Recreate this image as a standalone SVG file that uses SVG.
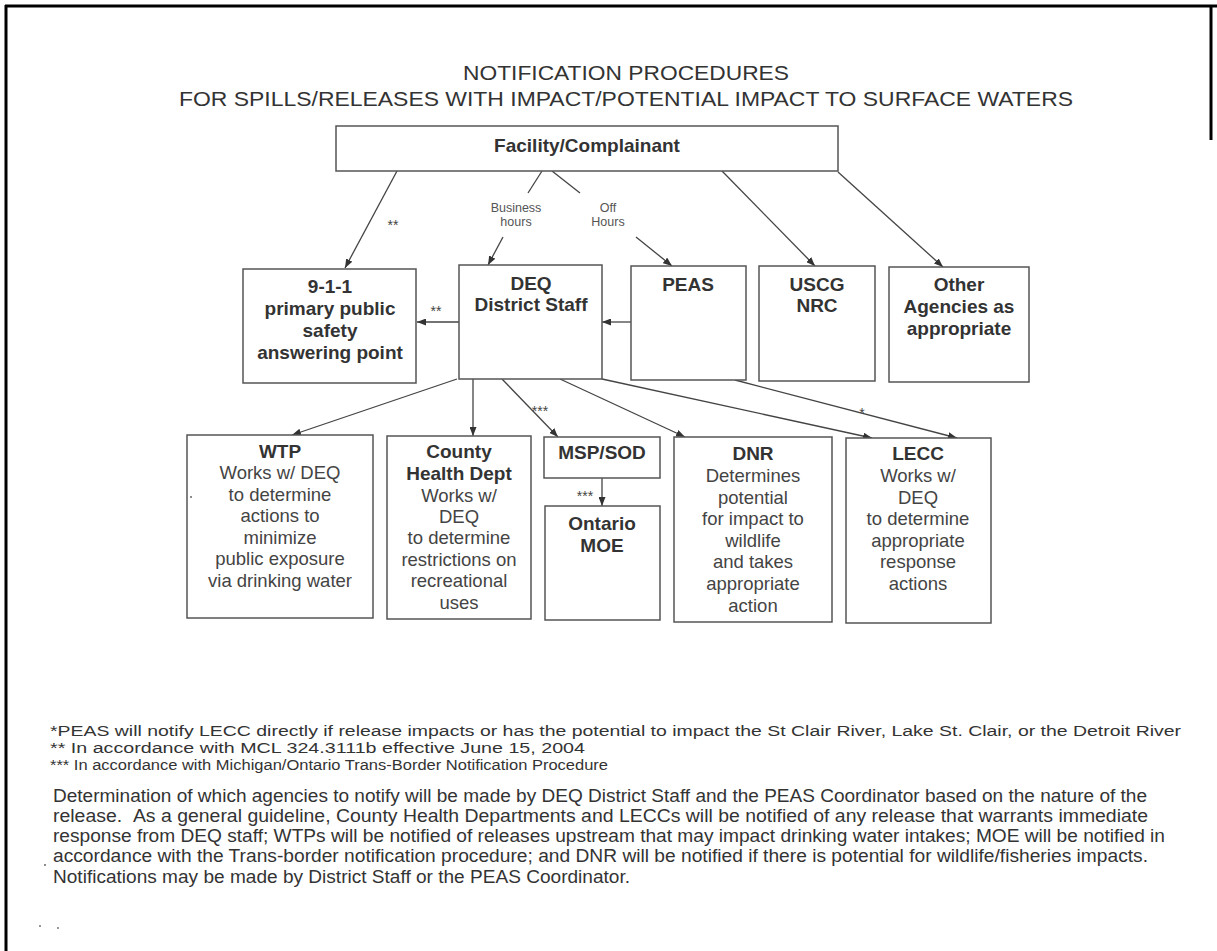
<svg xmlns="http://www.w3.org/2000/svg" width="1217" height="951" viewBox="0 0 1217 951">
<defs>
<style>
.box{fill:#fff;stroke:#555;stroke-width:1.5}
.b{font-family:"Liberation Sans",Arial,sans-serif;font-weight:bold;font-size:19px;fill:#333;text-anchor:middle}
.r{font-family:"Liberation Sans",Arial,sans-serif;font-size:18.5px;fill:#444;text-anchor:middle}
.s{font-family:"Liberation Sans",Arial,sans-serif;font-size:12.5px;fill:#555;text-anchor:middle}
.ast{font-family:"Liberation Sans",Arial,sans-serif;font-size:14px;fill:#444;text-anchor:middle}
.t{font-family:"Liberation Sans",Arial,sans-serif;font-size:21px;fill:#333}
.f{font-family:"Liberation Sans Narrow","Liberation Sans",Arial,sans-serif;font-size:17.5px;fill:#333}
.fn{font-family:"Liberation Sans Narrow","Liberation Sans",Arial,sans-serif;font-size:15.5px;fill:#333}
.c line{stroke:#444;stroke-width:1.3;fill:none}
.c line.a{marker-end:url(#ah)}
</style>
<marker id="ah" markerUnits="userSpaceOnUse" markerWidth="9" markerHeight="7" refX="9" refY="3.5" orient="auto">
<path d="M0,0 L9,3.5 L0,7 z" fill="#333"/>
</marker>
</defs>
<rect x="0" y="0" width="1217" height="951" fill="#fff"/>
<g id="border" stroke="#000" stroke-width="3">
<line x1="5" y1="6" x2="1217" y2="6"/>
<line x1="6" y1="5" x2="6" y2="951"/>
<line x1="1211" y1="5" x2="1211" y2="140"/>
</g>
<g id="title">
<text class="t" x="463" y="80" textLength="326" lengthAdjust="spacingAndGlyphs">NOTIFICATION PROCEDURES</text>
<text class="t" x="179" y="106" textLength="894" lengthAdjust="spacingAndGlyphs">FOR SPILLS/RELEASES WITH IMPACT/POTENTIAL IMPACT TO SURFACE WATERS</text>
</g>
<g class="c" id="connectors">
<line class="a" x1="397" y1="171" x2="345" y2="268"/>
<line x1="542" y1="171" x2="528" y2="193"/>
<line class="a" x1="503" y1="237" x2="488" y2="265"/>
<line x1="552" y1="171" x2="580" y2="193"/>
<line class="a" x1="636" y1="237" x2="672" y2="266"/>
<line class="a" x1="722" y1="171" x2="815" y2="266"/>
<line class="a" x1="838" y1="172" x2="943" y2="267"/>
<line class="a" x1="459" y1="322" x2="417" y2="322"/>
<line class="a" x1="631" y1="322" x2="602" y2="322"/>
<line class="a" x1="457" y1="379" x2="292" y2="435"/>
<line class="a" x1="473" y1="379" x2="473" y2="436"/>
<line class="a" x1="502" y1="379" x2="558" y2="437"/>
<line class="a" x1="560" y1="379" x2="685" y2="437"/>
<line class="a" x1="602" y1="379" x2="872" y2="438"/>
<line class="a" x1="735" y1="380" x2="957" y2="438"/>
<line class="a" x1="602" y1="478" x2="602" y2="506"/>
<text class="s" x="516" y="212">Business</text>
<text class="s" x="516" y="226">hours</text>
<text class="s" x="608" y="212">Off</text>
<text class="s" x="608" y="226">Hours</text>
<text class="ast" x="393" y="230">**</text>
<text class="ast" x="436" y="316">**</text>
<text class="ast" x="540" y="416">***</text>
<text class="ast" x="862" y="418">*</text>
<text class="ast" x="585" y="501">***</text>
</g>
<g id="facility">
<rect class="box" x="336" y="126" width="502" height="45"/>
<text class="b" x="587" y="152">Facility/Complainant</text>
</g>
<g id="n911">
<rect class="box" x="243" y="269" width="173" height="114"/>
<text class="b" x="330" y="293">9-1-1</text>
<text class="b" x="330" y="315">primary public</text>
<text class="b" x="330" y="337">safety</text>
<text class="b" x="330" y="359">answering point</text>
</g>
<g id="deq">
<rect class="box" x="459" y="265" width="143" height="114"/>
<text class="b" x="531" y="290">DEQ</text>
<text class="b" x="531" y="311">District Staff</text>
</g>
<g id="peas">
<rect class="box" x="631" y="266" width="115" height="114"/>
<text class="b" x="688" y="291">PEAS</text>
</g>
<g id="uscg">
<rect class="box" x="759" y="266" width="116" height="115"/>
<text class="b" x="817" y="291">USCG</text>
<text class="b" x="817" y="312">NRC</text>
</g>
<g id="other">
<rect class="box" x="889" y="267" width="140" height="115"/>
<text class="b" x="959" y="291">Other</text>
<text class="b" x="959" y="313">Agencies as</text>
<text class="b" x="959" y="335">appropriate</text>
</g>
<g id="wtp">
<rect class="box" x="187" y="435" width="186" height="183"/>
<text class="b" x="280" y="458">WTP</text>
<text class="r" x="280" y="479">Works w/ DEQ</text>
<text class="r" x="280" y="501">to determine</text>
<text class="r" x="280" y="522">actions to</text>
<text class="r" x="280" y="544">minimize</text>
<text class="r" x="280" y="565">public exposure</text>
<text class="r" x="280" y="587">via drinking water</text>
</g>
<g id="county">
<rect class="box" x="387" y="436" width="144" height="183"/>
<text class="b" x="459" y="458">County</text>
<text class="b" x="459" y="480">Health Dept</text>
<text class="r" x="459" y="502">Works w/</text>
<text class="r" x="459" y="523">DEQ</text>
<text class="r" x="459" y="544">to determine</text>
<text class="r" x="459" y="566">restrictions on</text>
<text class="r" x="459" y="587">recreational</text>
<text class="r" x="459" y="609">uses</text>
</g>
<g id="msp">
<rect class="box" x="544" y="437" width="116" height="41"/>
<text class="b" x="602" y="459">MSP/SOD</text>
</g>
<g id="ontario">
<rect class="box" x="545" y="506" width="115" height="114"/>
<text class="b" x="602" y="530">Ontario</text>
<text class="b" x="602" y="552">MOE</text>
</g>
<g id="dnr">
<rect class="box" x="674" y="437" width="158" height="185"/>
<text class="b" x="753" y="460">DNR</text>
<text class="r" x="753" y="482">Determines</text>
<text class="r" x="753" y="504">potential</text>
<text class="r" x="753" y="525">for impact to</text>
<text class="r" x="753" y="547">wildlife</text>
<text class="r" x="753" y="568">and takes</text>
<text class="r" x="753" y="590">appropriate</text>
<text class="r" x="753" y="612">action</text>
</g>
<g id="lecc">
<rect class="box" x="846" y="438" width="145" height="185"/>
<text class="b" x="918" y="460">LECC</text>
<text class="r" x="918" y="482">Works w/</text>
<text class="r" x="918" y="504">DEQ</text>
<text class="r" x="918" y="525">to determine</text>
<text class="r" x="918" y="547">appropriate</text>
<text class="r" x="918" y="568">response</text>
<text class="r" x="918" y="590">actions</text>
</g>
<g id="notes">
<text class="fn" x="50" y="736" textLength="1131" lengthAdjust="spacingAndGlyphs">*PEAS will notify LECC directly if release impacts or has the potential to impact the St Clair River, Lake St. Clair, or the Detroit River</text>
<text class="fn" x="50" y="753" textLength="535" lengthAdjust="spacingAndGlyphs">** In accordance with MCL 324.3111b effective June 15, 2004</text>
<text class="fn" x="50" y="770" textLength="558" lengthAdjust="spacingAndGlyphs">*** In accordance with Michigan/Ontario Trans-Border Notification Procedure</text>
<text class="f" x="53" y="802" textLength="1094" lengthAdjust="spacingAndGlyphs">Determination of which agencies to notify will be made by DEQ District Staff and the PEAS Coordinator based on the nature of the</text>
<text class="f" x="53" y="822" textLength="1095" lengthAdjust="spacingAndGlyphs">release. &#160;As a general guideline, County Health Departments and LECCs will be notified of any release that warrants immediate</text>
<text class="f" x="53" y="842" textLength="1112" lengthAdjust="spacingAndGlyphs">response from DEQ staff; WTPs will be notified of releases upstream that may impact drinking water intakes; MOE will be notified in</text>
<text class="f" x="53" y="862" textLength="1095" lengthAdjust="spacingAndGlyphs">accordance with the Trans-border notification procedure; and DNR will be notified if there is potential for wildlife/fisheries impacts.</text>
<text class="f" x="53" y="883" textLength="577" lengthAdjust="spacingAndGlyphs">Notifications may be made by District Staff or the PEAS Coordinator.</text>
</g>
<g id="specks" fill="#666">
<circle cx="191" cy="497" r="1"/>
<circle cx="45" cy="865" r="1"/>
<circle cx="40" cy="926" r="0.9"/>
<circle cx="58" cy="928" r="0.9"/>
</g>
</svg>
